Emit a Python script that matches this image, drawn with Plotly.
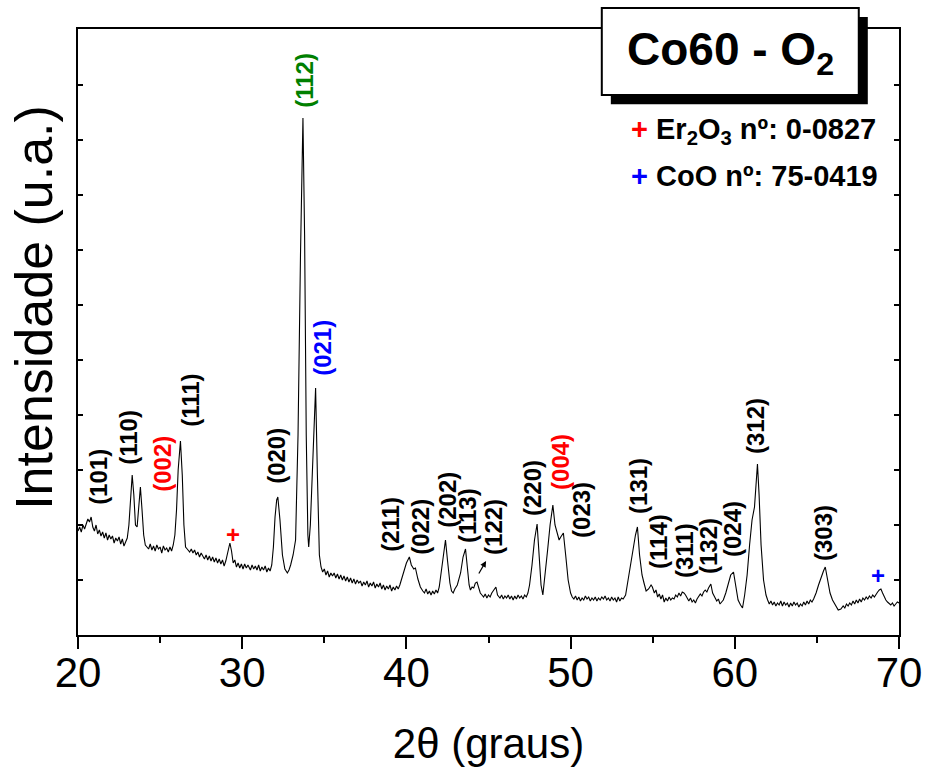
import plotly.graph_objects as go

# ---- XRD pattern (2theta in degrees, intensity in a.u.) ----
two_theta = [
    20.0, 20.1, 20.2, 20.3, 20.4, 20.5, 20.6, 20.7, 20.8, 20.9,
    21.0, 21.1, 21.2, 21.3, 21.4, 21.5, 21.6, 21.7, 21.8, 21.9,
    22.0, 22.1, 22.2, 22.3, 22.4, 22.5, 22.6, 22.7, 22.8, 22.9,
    23.0, 23.1, 23.2, 23.3, 23.4, 23.5, 23.6, 23.7, 23.8, 23.9,
    24.0, 24.1, 24.2, 24.3, 24.4, 24.5, 24.6, 24.7, 24.8, 24.9,
    25.0, 25.1, 25.2, 25.3, 25.4, 25.5, 25.6, 25.7, 25.8, 25.9,
    26.0, 26.1, 26.24, 26.35, 26.45, 26.55, 26.65, 26.8, 26.9,
    27.0, 27.1, 27.2, 27.3, 27.4, 27.5, 27.6, 27.7, 27.8, 27.9,
    28.0, 28.1, 28.2, 28.3, 28.4, 28.5, 28.6, 28.7, 28.8, 28.9,
    29.0, 29.1, 29.25, 29.35, 29.45, 29.55, 29.65, 29.75, 29.85, 29.95,
    30.05, 30.15, 30.25, 30.35, 30.5, 30.6, 30.7, 30.8, 30.9,
    31.0, 31.1, 31.2, 31.3, 31.4, 31.5, 31.6, 31.7, 31.8, 31.9,
    32.0, 32.1, 32.17, 32.3, 32.45, 32.6, 32.75, 32.85, 32.95,
    33.1, 33.25, 33.4, 33.55, 33.7, 33.8, 33.9, 34.0, 34.05, 34.15,
    34.3, 34.47, 34.58, 34.7, 34.8, 34.9, 35.0, 35.1, 35.2, 35.3, 35.4,
    35.5, 35.6, 35.7, 35.8, 35.9, 36.0, 36.1, 36.2, 36.3, 36.4,
    36.5, 36.6, 36.7, 36.8, 36.9, 37.0, 37.1, 37.2, 37.3, 37.4,
    37.5, 37.6, 37.7, 37.8, 37.9, 38.0, 38.1, 38.2, 38.3, 38.4,
    38.5, 38.6, 38.7, 38.8, 38.9, 39.0, 39.1, 39.2, 39.3, 39.4,
    39.5, 39.6, 39.7, 39.85, 40.0, 40.18, 40.3, 40.45, 40.55, 40.7,
    40.85, 41.0, 41.1, 41.2, 41.3, 41.4, 41.5, 41.6, 41.7, 41.8,
    41.9, 42.0, 42.1, 42.25, 42.38, 42.5, 42.65, 42.75, 42.85, 42.95,
    43.1, 43.3, 43.45, 43.6, 43.72, 43.82, 43.9, 44.0, 44.1, 44.2,
    44.3, 44.4, 44.5, 44.6, 44.7, 44.8, 44.9, 45.0, 45.1, 45.2,
    45.3, 45.45, 45.55, 45.7, 45.8, 45.9, 46.0, 46.1, 46.2, 46.3,
    46.4, 46.5, 46.6, 46.7, 46.8, 46.9, 47.0, 47.1, 47.2, 47.3,
    47.4, 47.5, 47.65, 47.8, 47.96, 48.08, 48.2, 48.31, 48.45, 48.6,
    48.75, 48.92, 49.05, 49.19, 49.3, 49.4, 49.56, 49.7, 49.85, 50.0,
    50.1, 50.2, 50.3, 50.4, 50.5, 50.6, 50.7, 50.8, 50.9, 51.0,
    51.1, 51.2, 51.3, 51.4, 51.5, 51.6, 51.7, 51.8, 51.9, 52.0,
    52.1, 52.2, 52.3, 52.4, 52.5, 52.6, 52.7, 52.8, 52.9, 53.0,
    53.1, 53.2, 53.35, 53.5, 53.65, 53.8, 53.95, 54.07, 54.2, 54.35,
    54.47, 54.6, 54.75, 54.9, 54.98, 55.1, 55.2, 55.3, 55.4, 55.5,
    55.6, 55.7, 55.8, 55.9, 56.0, 56.1, 56.2, 56.3, 56.4, 56.5,
    56.6, 56.7, 56.8, 56.9, 57.0, 57.1, 57.2, 57.3, 57.4, 57.5,
    57.6, 57.7, 57.8, 57.9, 58.0, 58.1, 58.2, 58.3, 58.4, 58.54,
    58.65, 58.8, 58.9, 59.0, 59.1, 59.2, 59.3, 59.45, 59.6, 59.75,
    59.92, 60.05, 60.2, 60.35, 60.47, 60.6, 60.75, 60.9, 61.05, 61.2,
    61.3, 61.38, 61.48, 61.6, 61.75, 61.9, 62.0, 62.1, 62.2, 62.3,
    62.4, 62.5, 62.6, 62.7, 62.8, 62.9, 63.0, 63.1, 63.2, 63.3,
    63.4, 63.5, 63.6, 63.7, 63.8, 63.9, 64.0, 64.1, 64.2, 64.3,
    64.4, 64.5, 64.6, 64.7, 64.8, 64.95, 65.1, 65.25, 65.4, 65.51,
    65.65, 65.8, 65.95, 66.06, 66.2, 66.3, 66.46, 66.6, 66.7, 66.8,
    66.9, 67.0, 67.1, 67.2, 67.3, 67.4, 67.5, 67.6, 67.7, 67.8,
    67.9, 68.0, 68.1, 68.2, 68.3, 68.4, 68.5, 68.6, 68.7, 68.8,
    68.9, 69.0, 69.1, 69.2, 69.3, 69.4, 69.5, 69.6, 69.7, 69.8,
    69.9, 70.0,
]
intensity = [
    104, 108, 103, 110, 106, 112, 116, 113, 118, 108,
    104, 110, 101, 105, 99, 103, 97, 102, 95, 100,
    96, 99, 92, 97, 94, 98, 91, 96, 89, 93,
    97, 110, 135, 160, 140, 110, 108, 130, 148, 125,
    100, 90, 88, 86, 91, 85, 89, 84, 90, 86,
    88, 82, 89, 85, 87, 83, 88, 84, 90, 100,
    125, 165, 194, 160, 110, 88, 86, 83, 86,
    82, 85, 80, 83, 78, 82, 79, 76, 80, 75,
    79, 74, 78, 73, 77, 72, 76, 71, 75, 69,
    74, 82, 92, 84, 72, 75, 68, 72, 67, 71,
    66, 71, 67, 70, 65, 70, 66, 69, 65,
    70, 64, 68, 65, 69, 63, 67, 64, 70, 88,
    118, 135, 138, 115, 80, 66, 62, 65, 70,
    80, 95, 200, 380, 517, 400, 200, 100, 88, 110,
    180, 247, 160, 80, 68, 63, 66, 60, 64, 58, 62,
    59, 62, 57, 61, 56, 60, 55, 59, 54, 58,
    53, 57, 52, 56, 51, 55, 52, 54, 49, 53,
    50, 54, 48, 52, 49, 53, 47, 51, 48, 52,
    46, 50, 45, 49, 46, 50, 44, 48, 45, 49,
    46, 50, 56, 65, 72, 78, 70, 66, 67, 56,
    48, 44, 42, 46, 41, 44, 40, 44, 41, 45,
    42, 48, 60, 80, 95, 75, 52, 44, 42, 46,
    50, 62, 78, 86, 68, 50, 45, 48, 47, 52,
    53, 47, 42, 40, 38, 41, 37, 40, 38, 42,
    45, 48, 40, 37, 40, 36, 39, 37, 40, 36,
    39, 35, 39, 36, 40, 37, 39, 36, 40, 38,
    42, 50, 70, 95, 111, 85, 50, 40, 60, 85,
    110, 130, 110, 100, 95, 98, 102, 80, 55, 42,
    38, 36, 39, 35, 38, 34, 37, 35, 39, 36,
    38, 34, 37, 35, 38, 34, 37, 35, 38, 36,
    39, 35, 37, 34, 38, 35, 37, 33, 38, 34,
    37, 36, 40, 55, 72, 85, 100, 108, 80, 60,
    52, 44, 46, 50, 48, 42, 45, 38, 41, 36,
    40, 33, 37, 34, 38, 35, 37, 36, 40, 38,
    42, 39, 43, 42, 40, 37, 34, 37, 33, 35,
    32, 36, 38, 41, 39, 43, 45, 43, 47, 51,
    42, 38, 34, 36, 31, 33, 35, 42, 52, 60,
    63, 50, 35, 30, 27, 40, 60, 90, 115, 128,
    150, 171, 140, 90, 55, 40, 35, 31, 34, 30,
    33, 29, 32, 30, 34, 29, 33, 30, 32, 28,
    32, 29, 33, 30, 32, 28, 31, 29, 33, 30,
    34, 31, 35, 33, 36, 42, 50, 58, 64, 68,
    55, 42, 35, 32, 28, 25, 26, 29, 27, 31,
    29, 32, 30, 34, 31, 35, 32, 36, 33, 37,
    35, 38, 36, 39, 37, 40, 38, 41, 43, 45,
    46, 42, 38, 35, 33, 31, 30, 32, 29, 31,
    33, 32,
]

# ---- Miller-index labels ----
hkl_labels = ["(101)", "(110)", "(002)", "(111)", "(020)", "(112)", "(021)",
              "(211)", "(022)", "(202)", "(113)", "(122)", "(220)", "(004)",
              "(023)", "(131)", "(114)", "(311)", "(132)", "(024)", "(312)", "(303)"]
hkl_colors = ["black", "black", "red", "black", "black", "green", "blue",
              "black", "black", "black", "black", "black", "black", "red",
              "black", "black", "black", "black", "black", "black", "black", "black"]
hkl_x = [21.21, 23.03, 25.10, 26.81, 32.05, 33.75, 34.85,
         38.99, 40.82, 42.46, 43.69, 45.27, 47.65, 49.35,
         50.63, 54.10, 55.32, 56.91, 58.37, 59.83, 61.23, 65.37]
hkl_y = [158, 198, 171, 235, 179, 555, 287,
         111, 108, 135, 120, 108, 147, 173,
         125, 149, 94, 84, 89, 106, 209, 102]

# phase markers
marker_x = [29.43, 68.73]
marker_y = [101, 60]
marker_colors = ["red", "blue"]

FONT = "Liberation Sans, Arial, sans-serif"

fig = go.Figure()
fig.add_trace(go.Scatter(x=two_theta, y=intensity, mode="lines",
                         line=dict(color="black", width=1.1), showlegend=False,
                         hoverinfo="skip"))

annotations = []
for t, c, x, y in zip(hkl_labels, hkl_colors, hkl_x, hkl_y):
    annotations.append(dict(x=x, y=y, xref="x", yref="y", text="<b>%s</b>" % t,
                            textangle=-90, showarrow=False,
                            font=dict(family=FONT, size=24, color=c)))
for x, y, c in zip(marker_x, marker_y, marker_colors):
    annotations.append(dict(x=x, y=y, xref="x", yref="y", text="<b>+</b>",
                            showarrow=False, font=dict(family=FONT, size=24, color=c)))
# small arrow pointing to (122)
annotations.append(dict(x=44.85, y=74, ax=44.36, ay=60, xref="x", yref="y",
                        axref="x", ayref="y", text="", showarrow=True,
                        arrowhead=2, arrowsize=1, arrowwidth=1.2, arrowcolor="black"))

# legend text
annotations.append(dict(x=0.671, y=0.831, xref="paper", yref="paper", xanchor="left",
                        yanchor="middle", showarrow=False,
                        text="<span style='color:red'><b>+</b></span> <b>Er<sub>2</sub>O<sub>3</sub> nº: 0-0827</b>",
                        font=dict(family=FONT, size=29, color="black")))
annotations.append(dict(x=0.671, y=0.758, xref="paper", yref="paper", xanchor="left",
                        yanchor="middle", showarrow=False,
                        text="<span style='color:blue'><b>+</b></span> <b>CoO nº: 75-0419</b>",
                        font=dict(family=FONT, size=29, color="black")))
# title box text
annotations.append(dict(x=0.7944, y=0.962, xref="paper", yref="paper", xanchor="center",
                        yanchor="middle", showarrow=False,
                        text="<b>Co60 - O<sub>2</sub></b>",
                        font=dict(family=FONT, size=46, color="black")))
# y axis title
annotations.append(dict(x=-0.0535, y=0.54, xref="paper", yref="paper", xanchor="center",
                        yanchor="middle", showarrow=False, textangle=-90,
                        text="Intensidade (u.a.)",
                        font=dict(family=FONT, size=52, color="black")))

shapes = [
    dict(type="rect", xref="paper", yref="paper", x0=0.649, x1=0.962, y0=0.876, y1=1.0198,
         fillcolor="black", line=dict(color="black", width=0), layer="above"),
    dict(type="rect", xref="paper", yref="paper", x0=0.638, x1=0.951, y0=0.891, y1=1.0347,
         fillcolor="white", line=dict(color="black", width=2), layer="above"),
]

fig.update_layout(
    width=925, height=769,
    margin=dict(l=78, r=26, t=29, b=134, autoexpand=False),
    plot_bgcolor="white", paper_bgcolor="white",
    font=dict(family=FONT, color="black"),
    annotations=annotations, shapes=shapes,
    xaxis=dict(range=[20, 70], dtick=10, tick0=20, ticks="outside", ticklen=12,
               tickwidth=1.5, tickcolor="black", showline=True, linecolor="black",
               linewidth=1.6, mirror=True, showgrid=False, zeroline=False,
               automargin=False, ticklabelstandoff=-12, ticklabeloverflow="allow",
               tickfont=dict(family=FONT, size=42, color="black"),
               minor=dict(dtick=5, ticks="outside", ticklen=6, tickwidth=1.5,
                          tickcolor="black", showgrid=False),
               title=dict(text="2θ (graus)", standoff=33,
                          font=dict(family=FONT, size=42, color="black"))),
    yaxis=dict(range=[0, 606], tick0=55, dtick=55, ticks="inside", ticklen=5,
               tickwidth=1.5, tickcolor="black", showticklabels=False, showline=True,
               linecolor="black", linewidth=1.6, mirror="ticks", showgrid=False,
               zeroline=False, automargin=False),
)

fig.write_html("out.html", config={"displayModeBar": False},
               post_script="document.body.style.margin='0';document.body.style.overflow='hidden';")
